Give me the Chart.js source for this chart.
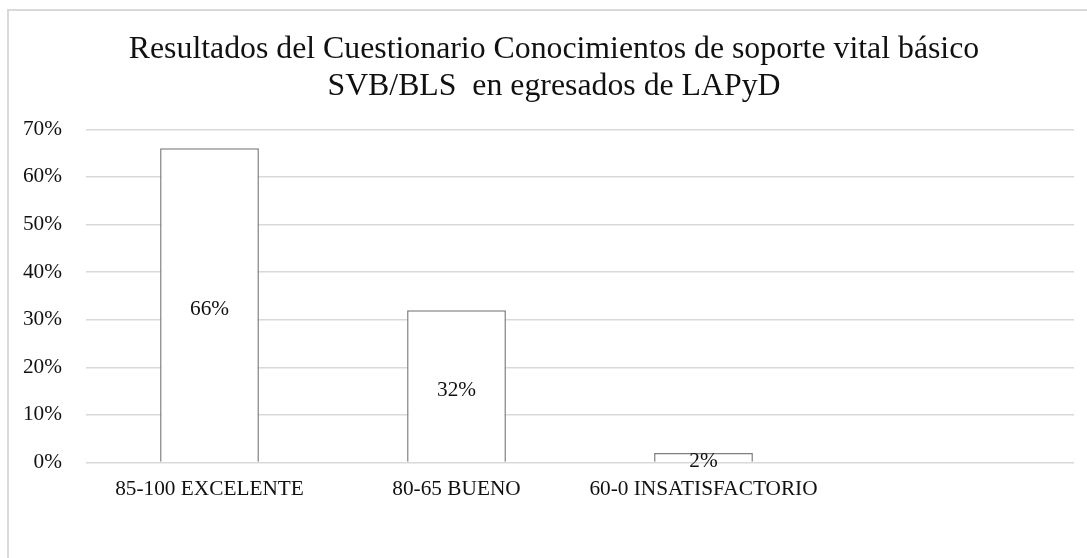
<!DOCTYPE html>
<html>
<head>
<meta charset="utf-8">
<script src="https://cdn.jsdelivr.net/npm/chart.js@4"></script>
<style>
  html, body { margin: 0; padding: 0; background: #fff; overflow: hidden; }
  #wrap { position: absolute; left: 0; top: 0; width: 1087px; height: 558px; }
  #frame { position: absolute; left: 7px; top: 9px; width: 1200px; height: 700px; border: 2px solid #d9d9d9; box-sizing: border-box; pointer-events: none; }
</style>
</head>
<body>
<div id="wrap"><canvas id="c"></canvas></div>
<div id="frame"></div>
<script>
const titleLines = ['Resultados del Cuestionario Conocimientos de soporte vital básico', 'SVB/BLS  en egresados de LAPyD'];
const categories = ['85-100 EXCELENTE', '80-65 BUENO', '60-0 INSATISFACTORIO', ''];
const values = [66, 32, 2, null];
const yMax = 70;
const yStep = 10;

const FONT = '"Liberation Serif", "Times New Roman", serif';

const centerLabels = {
  id: 'centerLabels',
  afterDatasetsDraw(chart) {
    const ctx = chart.ctx;
    const meta = chart.getDatasetMeta(0);
    ctx.save();
    ctx.font = '21.3px ' + FONT;
    ctx.fillStyle = '#111';
    ctx.textAlign = 'center';
    ctx.textBaseline = 'middle';
    meta.data.forEach((bar, i) => {
      const v = values[i];
      if (v === null || v === undefined) return;
      const p = bar.getProps(['x', 'y', 'base'], true);
      ctx.fillText(v + '%', p.x, (p.y + p.base) / 2 + 4);
    });
    ctx.restore();
  }
};

// center the title on the chart frame rather than the full canvas
const titleShift = {
  id: 'titleShift',
  afterLayout(chart) {
    if (chart.titleBlock) { chart.titleBlock.left = 34; }
  }
};

new Chart(document.getElementById('c'), {
  type: 'bar',
  data: {
    labels: categories,
    datasets: [{
      data: values,
      backgroundColor: '#ffffff',
      borderColor: '#7f7f7f',
      borderWidth: 1.5,
      categoryPercentage: 0.8,
      barPercentage: 0.5
    }]
  },
  options: {
    responsive: true,
    maintainAspectRatio: false,
    animation: false,
    layout: { padding: { left: 20, right: 13, top: 0, bottom: 55.5 } },
    plugins: {
      legend: { display: false },
      tooltip: { enabled: false },
      title: {
        display: true,
        text: titleLines,
        color: '#111',
        font: { family: FONT, size: 31.8, weight: 'normal', lineHeight: 1.163 },
        padding: { top: 30.7, bottom: 24.6 }
      }
    },
    scales: {
      x: {
        grid: { display: false, drawTicks: false },
        border: { display: false },
        ticks: { color: '#111', font: { family: FONT, size: 21.3 }, padding: 14, maxRotation: 0, autoSkip: false },
        afterFit(scale) { scale.height = 40; }
      },
      y: {
        min: 0, max: yMax,
        grid: { color: '#d9d9d9', lineWidth: 1.5, drawTicks: false },
        border: { display: false },
        ticks: { stepSize: yStep, color: '#111', font: { family: FONT, size: 21.3 }, padding: 24, callback: v => v + '%' },
        afterFit(scale) { scale.width = 66; }
      }
    }
  },
  plugins: [centerLabels, titleShift]
});
</script>
</body>
</html>
